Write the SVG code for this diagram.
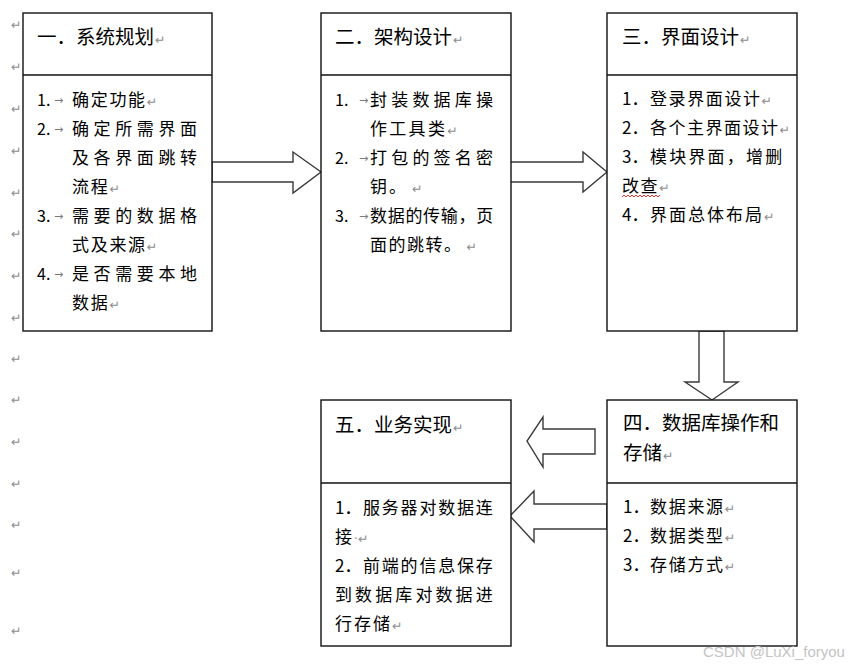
<svg xmlns="http://www.w3.org/2000/svg" width="851" height="667" viewBox="0 0 851 667">
<style>
.box{fill:#fff;stroke:#111;stroke-width:1.4}
.div{stroke:#111;stroke-width:1.4}
.arr{fill:#fff;stroke:#3a3a3a;stroke-width:1.4;stroke-linejoin:miter}
.h{font-family:"Noto Sans CJK SC","Noto Sans CJK JP",sans-serif;font-size:19.5px;fill:#000}
.b{font-family:"Noto Sans CJK SC","Noto Sans CJK JP",sans-serif;font-size:17px;fill:#000}
.n{font-family:"Noto Sans CJK SC",sans-serif;font-size:16px;fill:#000}
.pm{font-family:"DejaVu Sans",sans-serif;font-size:12.5px;fill:#8c8c8c}
.tab{font-family:"DejaVu Sans",sans-serif;font-size:11px;fill:#7a7a7a}
.wm{font-family:"Liberation Sans",sans-serif;font-size:15px;fill:#c4c4c4}
</style>

<g id="margin-marks" class="pm">
<text x="11" y="29">↵</text>
<text x="11" y="71">↵</text>
<text x="11" y="113">↵</text>
<text x="11" y="155">↵</text>
<text x="11" y="197">↵</text>
<text x="11" y="238">↵</text>
<text x="11" y="280">↵</text>
<text x="11" y="322">↵</text>
<text x="11" y="363">↵</text>
<text x="11" y="404">↵</text>
<text x="11" y="446">↵</text>
<text x="11" y="488">↵</text>
<text x="11" y="529">↵</text>
<text x="11" y="577">↵</text>
<text x="11" y="635">↵</text>
</g>

<g id="connectors">
<polygon class="arr" points="212,162 293,162 293,152 321,172 293,193 293,182 212,182"/>
<polygon class="arr" points="509,162 583,162 583,152 607,172 583,192 583,182 509,182"/>
<polygon class="arr" points="699,331 724,331 724,382 738,382 712,400 685,382 699,382"/>
<polygon class="arr" points="595,429 543,429 543,417 527,441 543,467 543,454 595,454"/>
<polygon class="arr" points="607,504 534,504 534,491 510,516 534,542 534,529 607,529"/>
</g>

<g id="node1">
<rect class="box" x="23" y="13" width="189" height="318"/>
<line class="div" x1="23" y1="75" x2="212" y2="75"/>
<text class="h" x="37" y="44">一．系统规划<tspan class="pm" dx="1">↵</tspan></text>
<text class="n" x="37" y="106">1.</text><text class="tab" x="54" y="104">→</text>
<text class="b" x="72" y="106" letter-spacing="1.7">确定功能<tspan class="pm">↵</tspan></text>
<text class="n" x="37" y="135">2.</text><text class="tab" x="54" y="133">→</text>
<text class="b" x="72" y="135" letter-spacing="4.6">确定所需界面</text>
<text class="b" x="72" y="164" letter-spacing="4.6">及各界面跳转</text>
<text class="b" x="72" y="193" letter-spacing="1.7">流程<tspan class="pm">↵</tspan></text>
<text class="n" x="37" y="222">3.</text><text class="tab" x="54" y="220">→</text>
<text class="b" x="72" y="222" letter-spacing="4.6">需要的数据格</text>
<text class="b" x="72" y="251" letter-spacing="1.7">式及来源<tspan class="pm">↵</tspan></text>
<text class="n" x="37" y="280">4.</text><text class="tab" x="54" y="278">→</text>
<text class="b" x="72" y="280" letter-spacing="4.6">是否需要本地</text>
<text class="b" x="72" y="309" letter-spacing="1.7">数据<tspan class="pm">↵</tspan></text>
</g>

<g id="node2">
<rect class="box" x="321" y="13" width="190" height="318"/>
<line class="div" x1="321" y1="75" x2="511" y2="75"/>
<text class="h" x="335" y="44">二．架构设计<tspan class="pm" dx="1">↵</tspan></text>
<text class="n" x="335" y="106">1.</text><text class="tab" x="359" y="104">→</text>
<text class="b" x="370" y="106" letter-spacing="4.2">封装数据库操</text>
<text class="b" x="370" y="135" letter-spacing="2.3">作工具类<tspan class="pm">↵</tspan></text>
<text class="n" x="335" y="164">2.</text><text class="tab" x="359" y="162">→</text>
<text class="b" x="370" y="164" letter-spacing="4.2">打包的签名密</text>
<text class="b" x="370" y="193" letter-spacing="2">钥。<tspan class="pm" dx="4">↵</tspan></text>
<text class="n" x="335" y="222">3.</text><text class="tab" x="359" y="220">→</text>
<text class="b" x="370" y="222" letter-spacing="0.7">数据的传输，页</text>
<text class="b" x="370" y="251" letter-spacing="1.5">面的跳转。<tspan class="pm" dx="4">↵</tspan></text>
</g>

<g id="node3">
<rect class="box" x="607" y="13" width="190" height="318"/>
<line class="div" x1="607" y1="75" x2="797" y2="75"/>
<text class="h" x="622" y="44">三．界面设计<tspan class="pm" dx="1">↵</tspan></text>
<text class="b" x="622" y="105">1．</text>
<text class="b" x="650" y="105" letter-spacing="1.6">登录界面设计<tspan class="pm">↵</tspan></text>
<text class="b" x="622" y="134">2．</text>
<text class="b" x="650" y="134" letter-spacing="1.5">各个主界面设计<tspan class="pm">↵</tspan></text>
<text class="b" x="622" y="163">3．</text>
<text class="b" x="650" y="163" letter-spacing="2.2">模块界面，增删</text>
<text class="b" x="622" y="192" letter-spacing="1.6">改查<tspan class="pm">↵</tspan></text>
<polyline points="622,197 624,195 626,197 628,195 630,197 632,195 634,197 636,195 638,197 640,195 642,197 644,195 646,197 648,195 650,197 652,195 654,197 656,195 658,197 660,195" fill="none" stroke="#e02020" stroke-width="0.9"/>
<text class="b" x="622" y="221">4．</text>
<text class="b" x="650" y="221" letter-spacing="2">界面总体布局<tspan class="pm">↵</tspan></text>
</g>

<g id="node4">
<rect class="box" x="607" y="400" width="190" height="246"/>
<line class="div" x1="607" y1="483" x2="797" y2="483"/>
<text class="h" x="623" y="430">四．数据库操作和</text>
<text class="h" x="623" y="460">存储<tspan class="pm" dx="1">↵</tspan></text>
<text class="b" x="623" y="513">1．</text>
<text class="b" x="650" y="513" letter-spacing="1.7">数据来源<tspan class="pm">↵</tspan></text>
<text class="b" x="623" y="542">2．</text>
<text class="b" x="650" y="542" letter-spacing="1.7">数据类型<tspan class="pm">↵</tspan></text>
<text class="b" x="623" y="571">3．</text>
<text class="b" x="650" y="571" letter-spacing="1.7">存储方式<tspan class="pm">↵</tspan></text>
</g>

<g id="node5">
<rect class="box" x="321" y="400" width="190" height="246"/>
<line class="div" x1="321" y1="483" x2="511" y2="483"/>
<text class="h" x="335" y="432">五．业务实现<tspan class="pm" dx="1">↵</tspan></text>
<text class="b" x="335" y="514">1．</text>
<text class="b" x="363" y="514" letter-spacing="1.8">服务器对数据连</text>
<text class="b" x="335" y="543">接<tspan class="pm" dx="2">·↵</tspan></text>
<text class="b" x="335" y="572">2．</text>
<text class="b" x="363" y="572" letter-spacing="1.8">前端的信息保存</text>
<text class="b" x="335" y="601" letter-spacing="3.1">到数据库对数据进</text>
<text class="b" x="335" y="630" letter-spacing="2">行存储<tspan class="pm">↵</tspan></text>
</g>

<text class="wm" x="703" y="657">CSDN @LuXi_foryou</text>
</svg>
